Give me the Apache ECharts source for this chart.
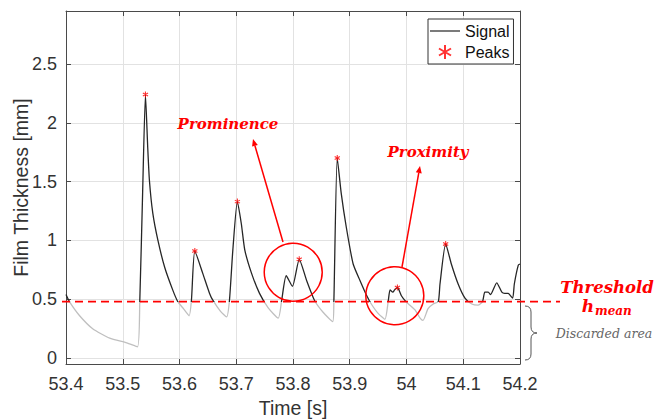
<!DOCTYPE html>
<html><head><meta charset="utf-8">
<script src="https://cdn.jsdelivr.net/npm/echarts@6/dist/echarts.min.js"></script>
<style>html,body{margin:0;padding:0;background:#fff}#c{width:670px;height:420px}</style>
</head><body><div id="c"></div>
<script>
// ---- data ----
const time = [53.400,53.406,53.424,53.447,53.477,53.507,53.526,53.530,53.535,53.540,53.544,53.547,53.553,53.562,53.574,53.588,53.597,53.607,53.617,53.621,53.627,53.641,53.653,53.659,53.672,53.683,53.688,53.694,53.702,53.709,53.715,53.727,53.741,53.756,53.774,53.780,53.788,53.799,53.811,53.824,53.838,53.853,53.870,53.872,53.878,53.885,53.894,53.906,53.918,53.930,53.938,53.950,53.962,53.968,53.971,53.976,53.979,53.984,53.991,53.999,54.006,54.015,54.024,54.029,54.038,54.047,54.056,54.059,54.069,54.079,54.091,54.103,54.115,54.126,54.134,54.138,54.144,54.148,54.159,54.168,54.173,54.179,54.187,54.190,54.197,54.200];
const thickness = [0.54,0.48,0.36,0.25,0.17,0.13,0.096,0.48,1.40,2.24,1.79,1.51,1.23,1.00,0.77,0.58,0.48,0.42,0.36,0.49,0.91,0.72,0.55,0.49,0.40,0.35,0.49,0.92,1.33,1.14,0.92,0.72,0.55,0.43,0.34,0.49,0.70,0.61,0.84,0.66,0.49,0.39,0.31,0.48,1.70,1.40,1.11,0.80,0.66,0.53,0.46,0.38,0.33,0.49,0.58,0.56,0.58,0.60,0.53,0.48,0.45,0.41,0.34,0.32,0.42,0.46,0.48,0.63,0.97,0.80,0.63,0.51,0.46,0.45,0.48,0.56,0.56,0.54,0.64,0.56,0.55,0.55,0.51,0.63,0.79,0.80];
const peakTime = [53.540,53.627,53.702,53.811,53.878,53.984,54.069];
const peakValue = [2.24,0.91,1.33,0.84,1.70,0.60,0.97];
const yTicks = [0,0.5,1,1.5,2,2.5];
const threshold = 0.48;
const seriesNames = ['Signal','Peaks'];

const AX = '#4a4a4a';
const FONT = 'Liberation Sans, Arial, sans-serif';
const signal = time.map((t,i)=>[t,thickness[i]]);
const peaks = peakTime.map((t,i)=>[t,peakValue[i]]);

const xCommon = {type:'value',min:53.4,max:54.2,interval:0.1,
  axisLine:{show:true,onZero:false,lineStyle:{color:AX,width:1}},
  axisTick:{show:true,inside:true,length:5,lineStyle:{color:AX}}};
const yCommon = {type:'value',min:-0.05,max:2.95,
  axisLine:{show:true,onZero:false,lineStyle:{color:AX,width:1}},
  axisTick:{show:true,inside:true,length:5,customValues:yTicks,lineStyle:{color:AX}}};

const option = {
  animation:false,
  backgroundColor:'#fff',
  grid:{left:66,right:150,top:11,bottom:56,containLabel:false,outerBoundsMode:'none'},
  xAxis:[
    Object.assign({},xCommon,{position:'bottom',
      axisLabel:{fontSize:18,color:'#333',margin:11,fontFamily:FONT},
      splitLine:{show:true,lineStyle:{color:'#e2e2e2',width:1}},
      name:'Time [s]',nameLocation:'middle',nameGap:34,nameMoveOverlap:false,
      nameTextStyle:{fontSize:19.5,color:'#333',fontFamily:FONT}}),
    Object.assign({},xCommon,{position:'top',axisLabel:{show:false},splitLine:{show:false}})
  ],
  yAxis:[
    Object.assign({},yCommon,{position:'left',
      axisLabel:{fontSize:18,color:'#333',margin:9,fontFamily:FONT,customValues:yTicks},
      splitLine:{show:true,lineStyle:{color:'#e2e2e2',width:1}},
      name:'Film Thickness [mm]',nameLocation:'middle',nameGap:35,nameMoveOverlap:false,
      nameTextStyle:{fontSize:19.5,color:'#333',fontFamily:FONT}}),
    Object.assign({},yCommon,{position:'right',axisLabel:{show:false,customValues:yTicks},splitLine:{show:false}})
  ],
  legend:{left:428,top:19,orient:'vertical',backgroundColor:'#fff',
    borderColor:'#333',borderWidth:1,borderRadius:0,padding:[4,4,4,2],itemGap:5,
    itemWidth:30,itemHeight:14,symbolKeepAspect:true,
    textStyle:{fontSize:16,color:'#111',fontFamily:FONT},
    data:[{name:seriesNames[0],icon:'path://M0,0L30,0L30,1.3L0,1.3Z',itemStyle:{color:'#333'}},
          {name:seriesNames[1]}]},
  series:[
    {name:seriesNames[0],type:'line',data:signal,symbol:'none',smooth:0.2,
      lineStyle:{width:1.3,color:'#262626'},itemStyle:{color:'#333'},xAxisIndex:0,yAxisIndex:0,z:2},
    {name:seriesNames[1],type:'scatter',data:peaks,
      symbol:'path://M0,-5L0,5M-4.3,-2.5L4.3,2.5M-4.3,2.5L4.3,-2.5',symbolKeepAspect:true,
      symbolSize:6,itemStyle:{color:'#ff0000',borderColor:'#ff0000',borderWidth:1.1},z:4}
  ]
};

const chart = echarts.init(document.getElementById('c'),null,{renderer:'svg'});
chart.setOption(option);

// ---- threshold colouring + annotations (overlay) ----
const P = (x,y)=>chart.convertToPixel({gridIndex:0},[x,y]);
const yT = P(53.4,threshold)[1];
const xL = P(53.4,0)[0], xR = P(54.2,0)[0];
const H = 420, f = yT/H;
const grad = {type:'linear',x:0,y:0,x2:0,y2:H,global:true,colorStops:[
  {offset:0,color:'#262626'},{offset:f,color:'#262626'},
  {offset:f,color:'#bfbfbf'},{offset:1,color:'#bfbfbf'}]};
chart.setOption({series:[{lineStyle:{color:grad}}]});

const RED = '#ff0000';
const circles = [[53.8004,0.73],[53.9794,0.53]];
const arrows = [[[283,242],[253,139]],[[402,267],[420,166]]];
const g = [];
g.push({type:'line',shape:{x1:xL-4,y1:yT,x2:xR+40,y2:yT},
  style:{stroke:RED,lineWidth:1.6,lineDash:[8,5]},z:10});
circles.forEach(c=>{const p=P(c[0],c[1]);
  g.push({type:'circle',shape:{cx:p[0],cy:p[1],r:29},style:{fill:'none',stroke:RED,lineWidth:1.5},z:10});});
arrows.forEach(a=>{
  const [s,e]=a; const dx=e[0]-s[0], dy=e[1]-s[1]; const L=Math.hypot(dx,dy);
  const ux=dx/L, uy=dy/L, hl=7, hw=3;
  const bx=e[0]-ux*hl, by=e[1]-uy*hl;
  g.push({type:'line',shape:{x1:s[0],y1:s[1],x2:bx,y2:by},style:{stroke:RED,lineWidth:1.5},z:10});
  g.push({type:'polygon',shape:{points:[[e[0],e[1]],[bx-uy*hw,by+ux*hw],[bx+uy*hw,by-ux*hw]]},style:{fill:RED},z:10});
});
const SERIF='DejaVu Serif, serif';
const txt=(t,x,y,size,color,weight,align)=>({type:'text',x:x,y:y,z:11,
  style:{text:t,fill:color,font:'italic '+weight+' '+size+'px '+SERIF,align:align||'center',verticalAlign:'middle'}});
g.push(txt('Prominence',228,124,15,RED,'bold'));
g.push(txt('Proximity',428,152,15,RED,'bold'));
g.push(txt('Threshold',607,287,16.5,RED,'bold'));
g.push(txt('h',594,306,17,RED,'bold','right'));
g.push(txt('mean',595,311,12,RED,'bold','left'));
g.push(txt('Discarded area',604,333,12.5,'#666','normal'));
// brace
const BS = {fill:'none',stroke:'#555',lineWidth:1};
g.push({type:'bezierCurve',z:10,shape:{x1:525,y1:306,cpx1:531,cpy1:306,x2:531,y2:312},style:BS});
g.push({type:'line',z:10,shape:{x1:531,y1:312,x2:531,y2:327},style:BS});
g.push({type:'bezierCurve',z:10,shape:{x1:531,y1:327,cpx1:531,cpy1:333,x2:537,y2:333},style:BS});
g.push({type:'bezierCurve',z:10,shape:{x1:537,y1:333,cpx1:531,cpy1:333,x2:531,y2:339},style:BS});
g.push({type:'line',z:10,shape:{x1:531,y1:339,x2:531,y2:354},style:BS});
g.push({type:'bezierCurve',z:10,shape:{x1:531,y1:354,cpx1:531,cpy1:360,x2:525,y2:360},style:BS});
chart.setOption({graphic:g});
</script></body></html>
